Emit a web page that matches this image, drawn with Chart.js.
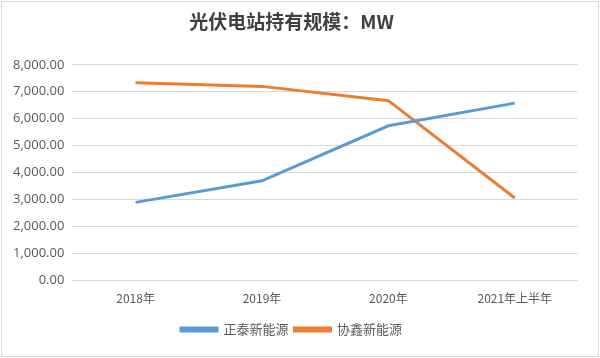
<!DOCTYPE html>
<html><head><meta charset="utf-8">
<script src="https://cdn.jsdelivr.net/npm/chart.js@4"></script>
<style>html,body{margin:0;padding:0;background:#fff}</style>
</head><body>
<canvas id="c" width="600" height="358"></canvas>
<script>
const categories = ['2018年', '2019年', '2020年', '2021年上半年'];
const zhengtai = [2900, 3700, 5740, 6580];
const xiexin = [7330, 7200, 6670, 3060];
const seriesNames = ['正泰新能源', '协鑫新能源'];
const titleText = '光伏电站持有规模：MW';

const frame = {
  id: 'frame',
  beforeDraw(chart) {
    const ctx = chart.ctx;
    ctx.save();
    ctx.fillStyle = '#fff';
    ctx.fillRect(0, 0, chart.width, chart.height);
    ctx.strokeStyle = '#d9d9d9';
    ctx.lineWidth = 1;
    ctx.strokeRect(1.5, 1.5, chart.width - 3, chart.height - 3);
    ctx.restore();
  }
};

new Chart(document.getElementById('c'), {
  type: 'line',
  data: {
    labels: categories,
    datasets: [
      { label: seriesNames[0], data: zhengtai, borderColor: '#5b9bd5', backgroundColor: '#5b9bd5', borderWidth: 3, pointRadius: 0, tension: 0 },
      { label: seriesNames[1], data: xiexin, borderColor: '#ed7d31', backgroundColor: '#ed7d31', borderWidth: 3, pointRadius: 0, tension: 0 }
    ]
  },
  options: {
    responsive: false,
    animation: false,
    layout: { padding: { left: 5, right: 22, top: 4, bottom: 12 } },
    plugins: {
      title: {
        display: true, text: titleText, color: '#404040',
        font: { family: '"Noto Sans CJK SC", sans-serif', size: 19, weight: 'bold' },
        padding: { top: 6, bottom: 32 }
      },
      legend: {
        position: 'bottom',
        labels: {
          color: '#595959', boxWidth: 36, boxHeight: 3, padding: 6,
          font: { family: '"Noto Sans CJK SC", sans-serif', size: 13 }
        }
      },
      tooltip: { enabled: false }
    },
    scales: {
      x: {
        offset: true,
        grid: { display: false, drawTicks: false },
        border: { display: false },
        ticks: { color: '#595959', padding: 11, font: { family: '"Noto Sans CJK SC", sans-serif', size: 12 } }
      },
      y: {
        min: 0, max: 8000,
        grid: { color: '#d9d9d9', drawTicks: false },
        border: { display: false },
        ticks: {
          stepSize: 1000, color: '#595959', padding: 8,
          font: { family: '"Open Sans", sans-serif', size: 13 },
          callback: v => v.toLocaleString('en-US', { minimumFractionDigits: 2, maximumFractionDigits: 2 })
        }
      }
    }
  },
  plugins: [frame]
});
</script>
</body></html>
